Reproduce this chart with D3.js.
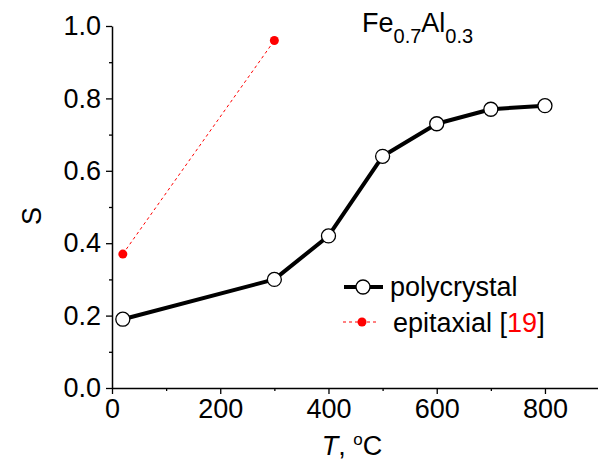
<!DOCTYPE html>
<html>
<head>
<meta charset="utf-8">
<script src="https://cdn.jsdelivr.net/npm/d3@7"></script>
<style>
  body { margin: 0; background: white; }
  text { font-family: "Liberation Sans", Arial, sans-serif; }
</style>
</head>
<body>
<svg id="chart" width="598" height="466"></svg>
<script>
// polycrystal data
var polyT = [20, 300, 400, 500, 600, 700, 800];
var polyS = [0.19, 0.30, 0.42, 0.64, 0.73, 0.77, 0.78];

// epitaxial data [19]
var epiT = [20, 300];
var epiS = [0.37, 0.96];

var xTicks = [0, 200, 400, 600, 800];
var yTicks = [0.0, 0.2, 0.4, 0.6, 0.8, 1.0];

var svg = d3.select("#chart");

var margin = {top: 26, right: 0, bottom: 78, left: 112};
var width = 598 - margin.left - margin.right;
var height = 466 - margin.top - margin.bottom;

var x = d3.scaleLinear().domain([0, 898]).range([0, width]);
var y = d3.scaleLinear().domain([0, 1.0]).range([height, 0]);

var g = svg.append("g")
    .attr("transform", "translate(" + margin.left + "," + margin.top + ")");

// minor ticks
g.append("g")
    .attr("transform", "translate(0," + height + ")")
    .call(d3.axisBottom(x).tickValues(d3.range(100, 900, 200)).tickSize(3).tickFormat(""))
    .call(function(s) { s.select(".domain").remove(); })
    .selectAll("line").attr("stroke-width", 1.3);

g.append("g")
    .call(d3.axisLeft(y).tickValues(d3.range(0.1, 1.0, 0.2)).tickSize(3).tickFormat(""))
    .call(function(s) { s.select(".domain").remove(); })
    .selectAll("line").attr("stroke-width", 1.3);

// major axes
var xAxis = g.append("g")
    .attr("transform", "translate(0," + height + ")")
    .call(d3.axisBottom(x).tickValues(xTicks).tickSize(6).tickSizeOuter(0).tickPadding(5));

var yAxis = g.append("g")
    .call(d3.axisLeft(y).tickValues(yTicks).tickSize(6).tickSizeOuter(0).tickPadding(5)
        .tickFormat(d3.format(".1f")));

[xAxis, yAxis].forEach(function(a) {
    a.select(".domain").attr("stroke-width", 1.5);
    a.selectAll(".tick line").attr("stroke-width", 1.3);
    a.selectAll("text")
        .style("font-family", "Liberation Sans, Arial, sans-serif")
        .style("font-size", "27px")
        .attr("fill", "black");
});

// epitaxial series
var line = d3.line()
    .x(function(d) { return x(d[0]); })
    .y(function(d) { return y(d[1]); });

var epi = d3.zip(epiT, epiS);
g.append("path")
    .datum(epi)
    .attr("d", line)
    .attr("fill", "none")
    .attr("stroke", "red")
    .attr("stroke-width", 1)
    .attr("stroke-dasharray", "3,3");

g.selectAll(".epi-dot")
    .data(epi)
    .enter()
    .append("circle")
    .classed("epi-dot", true)
    .attr("cx", function(d) { return x(d[0]); })
    .attr("cy", function(d) { return y(d[1]); })
    .attr("r", 4.5)
    .attr("fill", "red");

// polycrystal series
var poly = d3.zip(polyT, polyS);
g.append("path")
    .datum(poly)
    .attr("d", line)
    .attr("fill", "none")
    .attr("stroke", "black")
    .attr("stroke-width", 4)
    .attr("stroke-linejoin", "round");

g.selectAll(".poly-dot")
    .data(poly)
    .enter()
    .append("circle")
    .classed("poly-dot", true)
    .attr("cx", function(d) { return x(d[0]); })
    .attr("cy", function(d) { return y(d[1]); })
    .attr("r", 7)
    .attr("fill", "white")
    .attr("stroke", "black")
    .attr("stroke-width", 1.3);

// axis labels
var xl = svg.append("text")
    .attr("x", 352)
    .attr("y", 455)
    .attr("text-anchor", "middle")
    .style("font-size", "27px");
xl.append("tspan").style("font-style", "italic").text("T");
xl.append("tspan").text(", ");
xl.append("tspan").attr("dy", -10).style("font-size", "17px").text("o");
xl.append("tspan").attr("dy", 10).text("C");

svg.append("text")
    .attr("transform", "translate(41,216) rotate(-90)")
    .attr("text-anchor", "middle")
    .style("font-size", "27px")
    .text("S");

// title
var t = svg.append("text")
    .attr("x", 362)
    .attr("y", 32)
    .style("font-size", "27px");
t.append("tspan").text("Fe");
t.append("tspan").attr("dy", 11).style("font-size", "20px").text("0.7");
t.append("tspan").attr("dy", -11).text("Al");
t.append("tspan").attr("dy", 11).style("font-size", "20px").text("0.3");

// legend
var lg = svg.append("g");
lg.append("line")
    .attr("x1", 344).attr("x2", 383)
    .attr("y1", 287).attr("y2", 287)
    .attr("stroke", "black").attr("stroke-width", 4);
lg.append("circle")
    .attr("cx", 363).attr("cy", 287).attr("r", 7)
    .attr("fill", "white").attr("stroke", "black").attr("stroke-width", 1.3);
lg.append("text")
    .attr("x", 390).attr("y", 296)
    .style("font-size", "27px")
    .text("polycrystal");

lg.append("line")
    .attr("x1", 343).attr("x2", 377)
    .attr("y1", 322).attr("y2", 322)
    .attr("stroke", "red").attr("stroke-width", 1)
    .attr("stroke-dasharray", "3,3");
lg.append("circle")
    .attr("cx", 362).attr("cy", 322).attr("r", 4.5)
    .attr("fill", "red");
var et = lg.append("text")
    .attr("x", 393).attr("y", 332)
    .style("font-size", "27px");
et.append("tspan").text("epitaxial [");
et.append("tspan").attr("fill", "red").text("19");
et.append("tspan").text("]");
</script>
</body>
</html>
